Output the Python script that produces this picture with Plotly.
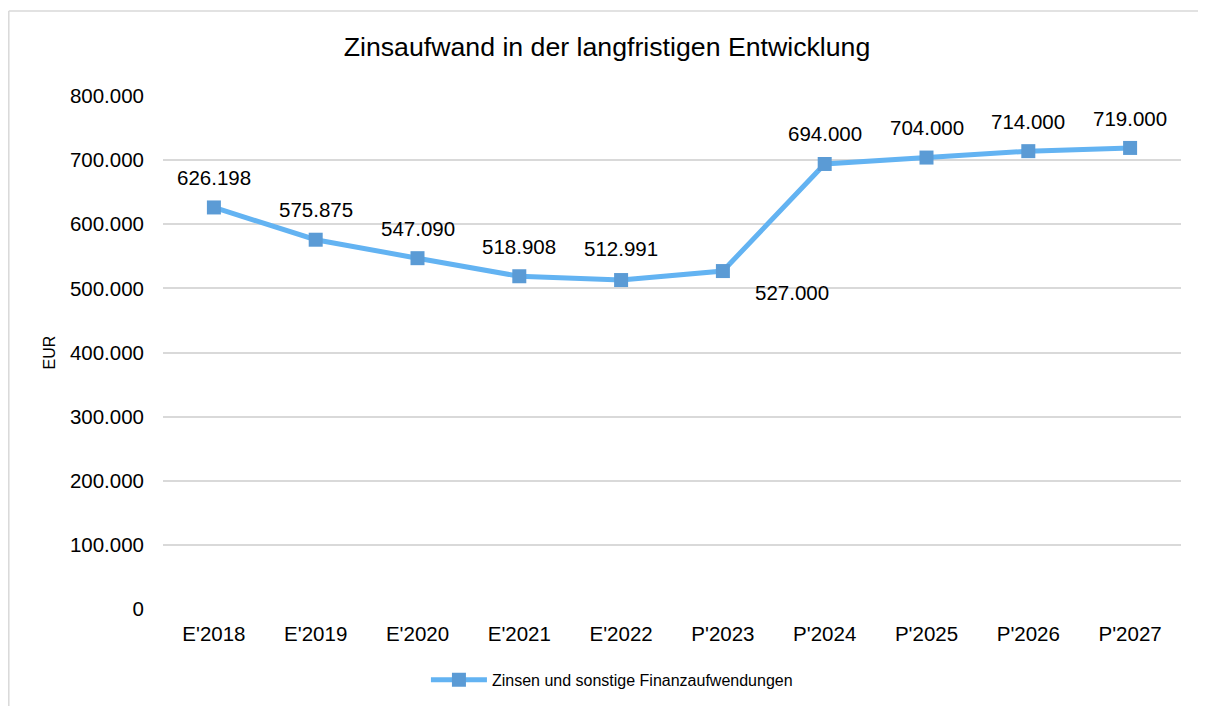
import plotly.graph_objects as go

categories = ["E'2018", "E'2019", "E'2020", "E'2021", "E'2022",
              "P'2023", "P'2024", "P'2025", "P'2026", "P'2027"]
values = [626198, 575875, 547090, 518908, 512991, 527000, 694000, 704000, 714000, 719000]
labels = ["626.198", "575.875", "547.090", "518.908", "512.991",
          "527.000", "694.000", "704.000", "714.000", "719.000"]
series_name = "Zinsen und sonstige Finanzaufwendungen"
title_text = "Zinsaufwand in der langfristigen Entwicklung"
y_ticks = [0, 100000, 200000, 300000, 400000, 500000, 600000, 700000, 800000]

# label offsets (style)
label_xshift = [0, 0, 0, 0, 0, 69, 0, 0, 0, 0]
label_yshift = [30, 30, 30, 30, 32, -21, 30, 30, 30, 29]

FONT = "Liberation Sans, Arial, sans-serif"

L, R, T, B = 155, 33, 88, 105
PW = 1206 - L - R
PH = 706 - T - B

fig = go.Figure()
fig.add_trace(go.Scatter(
    x=categories, y=values, mode="lines+markers", name=series_name,
    line=dict(color="#63B3F2", width=5),
    marker=dict(symbol="square", size=14, color="#5B9BD5"),
))

for c, v, t, dx, dy in zip(categories, values, labels, label_xshift, label_yshift):
    fig.add_annotation(x=c, y=v, text=t, showarrow=False, xshift=dx, yshift=dy,
                       font=dict(family=FONT, size=20.5, color="#000000"))

bx = (0.8 - L) / PW
by = 1 + (T - 3) / PH
fig.add_shape(type="line", xref="paper", yref="paper",
              x0=bx, x1=bx, y0=-0.5, y1=by,
              line=dict(color="#D9D9D9", width=1.5), layer="below")
fig.add_shape(type="line", xref="paper", yref="paper",
              x0=bx, x1=1.5, y0=by, y1=by,
              line=dict(color="#D9D9D9", width=1.5), layer="below")

fig.update_layout(
    width=1206, height=706,
    margin=dict(l=L, r=R, t=T, b=B),
    paper_bgcolor="white", plot_bgcolor="white",
    separators=",.",
    font=dict(family=FONT, color="#000000"),
    title=dict(text=title_text, x=599 / 1206, xref="container", xanchor="center",
               y=1 - 39 / 706, yref="container", yanchor="middle",
               font=dict(family=FONT, size=26.7, color="#000000")),
    showlegend=True,
    legend=dict(orientation="h", x=0.441, xanchor="center", y=-0.138, yanchor="middle",
                font=dict(family=FONT, size=16, color="#000000"), itemwidth=56),
    xaxis=dict(range=[-0.5, 9.5], showgrid=False, showline=False, zeroline=False,
               tickfont=dict(family=FONT, size=20.5, color="#000000"),
               ticklabelstandoff=10),
    yaxis=dict(range=[0, 800000], tickvals=y_ticks, tickformat=",.0f",
               showgrid=True, gridcolor="#D9D9D9", gridwidth=1.5,
               zeroline=False, showline=False,
               tickfont=dict(family=FONT, size=20.5, color="#000000"),
               ticklabelstandoff=18,
               title=dict(text="EUR", font=dict(family=FONT, size=16, color="#000000"),
                          standoff=10)),
)

fig.write_html("out.html")
